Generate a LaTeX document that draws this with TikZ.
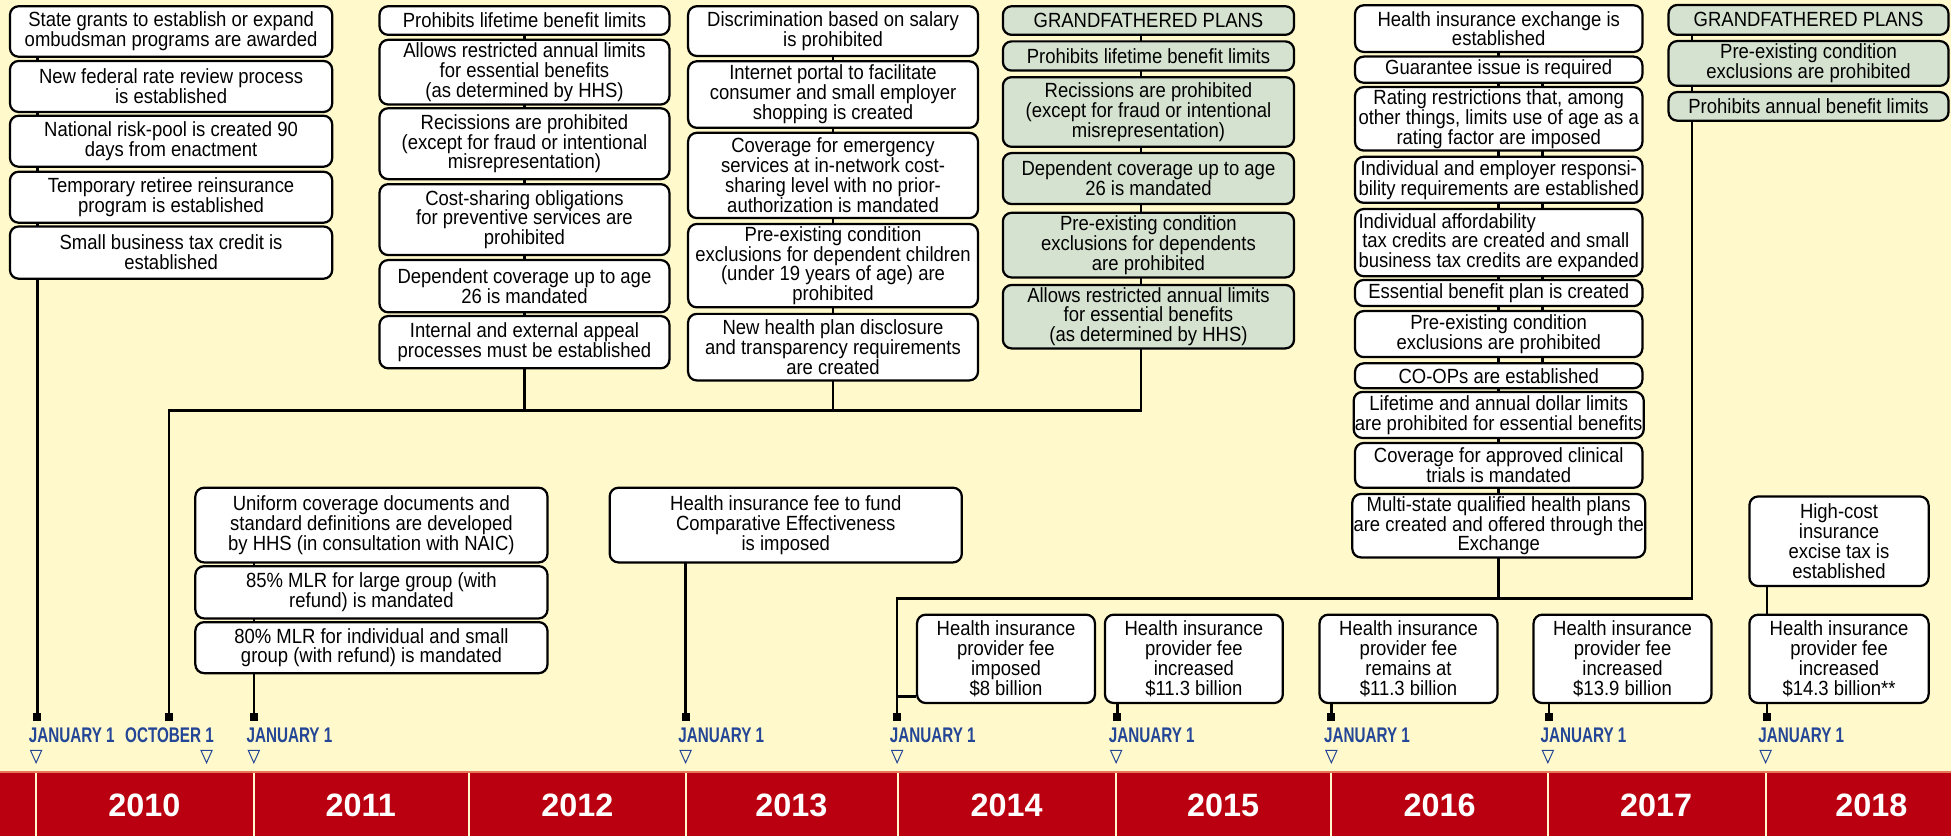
\documentclass[tikz,border=0pt]{standalone}
\usepackage{fontspec}
\setmainfont{Liberation Sans}
\newfontfamily\boxfont{Liberation Sans}[FakeStretch=0.9]
\newfontfamily\datefont{Liberation Sans}[FakeStretch=0.72]
\definecolor{creamBG}{RGB}{255,249,204}
\definecolor{bandRed}{RGB}{186,0,16}
\definecolor{bandEdge}{RGB}{232,120,90}
\definecolor{dateBlue}{RGB}{35,70,150}
\definecolor{gfGreen}{RGB}{213,226,208}
\pgfdeclarelayer{paper}
\pgfdeclarelayer{wires}
\pgfsetlayers{paper,wires,main}

\begin{document}
\begin{tikzpicture}[
    x=1pt, y=-1pt,
    evt/.style={draw, rounded corners=7pt, line width=1.8pt, fill=white, align=center, inner sep=1pt, font=\boxfont\fontsize{16.5}{16}\selectfont},
    gfp/.style={evt, fill=gfGreen},
    colA/.style={evt, minimum width=259pt},
    colB/.style={evt, minimum width=233pt},
    colC/.style={evt, minimum width=233pt},
    colD/.style={gfp, minimum width=234pt},
    colE/.style={evt, minimum width=231pt},
    colF/.style={gfp, minimum width=225pt},
    wide/.style={evt, minimum width=283pt},
    fee/.style={evt, minimum width=143pt, minimum height=71pt},
    wire/.style={line width=2pt},
    year/.style={text=white, font=\fontsize{26}{26}\selectfont\bfseries},
    date/.style={text=dateBlue, font=\datefont\fontsize{17}{17}\selectfont\bfseries, inner sep=0pt},
    stub/.style={fill=black, minimum size=6.5pt, inner sep=0pt}
  ]
    \useasboundingbox (0,0) rectangle (1568,672);

    % Paper and year band
    \begin{pgfonlayer}{paper}
      \fill[creamBG] (0,0) rectangle (1568,672);
      \fill[bandRed] (0,620) rectangle (1568,672);
      \draw[bandEdge, line width=1pt] (0,620.5) -- (1568,620.5);
      \foreach \x in {29,204,377,551,722,897,1070,1244,1419}
        \draw[creamBG, line width=1.6pt] (\x,621) -- (\x,672);
    \end{pgfonlayer}
    \foreach \yr/\x in {2010/116,2011/290,2012/464,2013/636,2014/809,2015/983,2016/1157,2017/1331,2018/1504}
      \node[year] (y\yr) at (\x,647) {\yr};

    % Dates
    \foreach \x/\nm in {29/d10,204/d11,551/d13,721/d14,897/d15,1070/d16,1244/d17,1419/d18}
      \node[date, anchor=west] (\nm) at (\x-6,591) {JANUARY 1};
    \node[date, anchor=east] (dO10) at (172,591) {OCTOBER 1};
    \foreach \x in {29,166,204,551,721,897,1070,1244,1419}
      \draw[dateBlue, line width=0.8pt] (\x-4.5,603) -- (\x+4.5,603) -- (\x,613) -- cycle;

    \coordinate (mJ10) at (30,576);
    \coordinate (mO10) at (136,576);
    \coordinate (mJ11) at (204,576);
    \coordinate (mJ13) at (551,576);
    \coordinate (mJ14) at (721,576);
    \coordinate (mJ15) at (898,576);
    \coordinate (mJ16) at (1070,576);
    \coordinate (mJ17) at (1245,576);
    \coordinate (mJ18) at (1420,576);
    \coordinate (bkO) at (136,330);
    \coordinate (bkD) at (917,330);
    \coordinate (bk14) at (721,481);
    \coordinate (bkF) at (1360,481);

    % January 1, 2010
    \node[colA, minimum height=40.6pt] (a1) at (137.5,25.3) {State grants to establish or expand\\ombudsman programs are awarded};
    \node[colA, minimum height=41pt] (a2) at (137.5,69.5) {New federal rate review process\\is established};
    \node[colA, minimum height=41pt] (a3) at (137.5,113.5) {National risk-pool is created 90\\days from enactment};
    \node[colA, minimum height=41pt] (a4) at (137.5,158.5) {Temporary retiree reinsurance\\program is established};
    \node[colA, minimum height=42pt] (a5) at (137.5,203) {Small business tax credit is\\established};

    % October 1, 2010
    \node[colB, minimum height=23pt] (b1) at (421.5,16.5) {Prohibits lifetime benefit limits};
    \node[colB, minimum height=52pt] (b2) at (421.5,58) {Allows restricted annual limits\\for essential benefits\\(as determined by HHS)};
    \node[colB, minimum height=57pt] (b3) at (421.5,115.5) {Recissions are prohibited\\(except for fraud or intentional\\misrepresentation)};
    \node[colB, minimum height=57pt] (b4) at (421.5,176.5) {Cost-sharing obligations\\for preventive services are\\prohibited};
    \node[colB, minimum height=42pt] (b5) at (421.5,230) {Dependent coverage up to age\\26 is mandated};
    \node[colB, minimum height=42pt] (b6) at (421.5,275) {Internal and external appeal\\processes must be established};

    \node[colC, minimum height=40pt] (c1) at (669.5,25) {Discrimination based on salary\\is prohibited};
    \node[colC, minimum height=53.5pt] (c2) at (669.5,76) {Internet portal to facilitate\\consumer and small employer\\shopping is created};
    \node[colC, minimum height=68.5pt] (c3) at (669.5,141) {Coverage for emergency\\services at in-network cost-\\sharing level with no prior-\\authorization is mandated};
    \node[colC, minimum height=67pt] (c4) at (669.5,213.5) {Pre-existing condition\\exclusions for dependent children\\(under 19 years of age) are\\prohibited};
    \node[colC, minimum height=53.5pt] (c5) at (669.5,279) {New health plan disclosure\\and transparency requirements\\are created};

    \node[colD, minimum height=23pt] (d1) at (923,16.5) {GRANDFATHERED PLANS};
    \node[colD, minimum height=23.5pt] (d2) at (923,45) {Prohibits lifetime benefit limits};
    \node[colD, minimum height=56pt] (d3) at (923,90) {Recissions are prohibited\\(except for fraud or intentional\\misrepresentation)};
    \node[colD, minimum height=41pt] (d4) at (923,143.5) {Dependent coverage up to age\\26 is mandated};
    \node[colD, minimum height=52pt] (d5) at (923,197) {Pre-existing condition\\exclusions for dependents\\are prohibited};
    \node[colD, minimum height=51pt] (d6) at (923,254.5) {Allows restricted annual limits\\for essential benefits\\(as determined by HHS)};

    % January 1, 2011 and 2013
    \node[wide, minimum height=60pt] (g1) at (298.5,422) {Uniform coverage documents and\\standard definitions are developed\\by HHS (in consultation with NAIC)};
    \node[wide, minimum height=42pt] (g2) at (298.5,476) {85\% MLR for large group (with\\refund) is mandated};
    \node[wide, minimum height=41pt] (g3) at (298.5,520.5) {80\% MLR for individual and small\\group (with refund) is mandated};
    \node[wide, minimum height=60pt] (h1) at (631.5,422) {Health insurance fee to fund\\Comparative Effectiveness\\is imposed};

    % January 1, 2014
    \node[colE, minimum height=37.5pt] (e1) at (1204.5,23) {Health insurance exchange is\\established};
    \node[colE, minimum height=21pt] (e2) at (1204.5,56) {Guarantee issue is required};
    \node[colE, minimum height=51pt] (e3) at (1204.5,95.5) {Rating restrictions that, among\\other things, limits use of age as a\\rating factor are imposed};
    \node[colE, minimum height=37pt] (e4) at (1204.5,144.5) {Individual and employer responsi-\\bility requirements are established};
    \node[colE, minimum height=54pt, align=left] (e5) at (1204.5,195) {Individual affordability\\\hspace*{3pt}tax credits are created and small\\business tax credits are expanded};
    \node[colE, minimum height=21pt] (e6) at (1204.5,235.5) {Essential benefit plan is created};
    \node[colE, minimum height=37pt] (e7) at (1204.5,268.5) {Pre-existing condition\\exclusions are prohibited};
    \node[colE, minimum height=20pt] (e8) at (1204.5,302) {CO-OPs are established};
    \node[colE, minimum height=37pt] (e9) at (1204.5,333.5) {Lifetime and annual dollar limits\\are prohibited for essential benefits};
    \node[colE, minimum height=36pt] (e10) at (1204.5,374) {Coverage for approved clinical\\trials is mandated};
    \node[colE, minimum height=51pt] (e11) at (1204.5,422.5) {Multi-state qualified health plans\\are created and offered through the\\Exchange};

    \node[colF, minimum height=24pt] (f1) at (1453.5,16) {GRANDFATHERED PLANS};
    \node[colF, minimum height=36pt] (f2) at (1453.5,51) {Pre-existing condition\\exclusions are prohibited};
    \node[colF, minimum height=23pt] (f3) at (1453.5,85.5) {Prohibits annual benefit limits};

    % Provider fees
    \node[fee] (i1) at (808.5,529.5) {Health insurance\\provider fee\\imposed\\\$8 billion};
    \node[fee] (i2) at (959.5,529.5) {Health insurance\\provider fee\\increased\\\$11.3 billion};
    \node[fee] (i3) at (1132,529.5) {Health insurance\\provider fee\\remains at\\\$11.3 billion};
    \node[fee] (i4) at (1304,529.5) {Health insurance\\provider fee\\increased\\\$13.9 billion};
    \node[fee, minimum width=144pt] (i5) at (1478,529.5) {Health insurance\\provider fee\\increased\\\$14.3 billion**};
    \node[fee, minimum width=144pt, minimum height=72pt] (j1) at (1478,435) {High-cost\\insurance\\excise tax is\\established};

    % Connectors
    \begin{pgfonlayer}{wires}
      \draw[wire] (mJ10 |- a1.center) -- (mJ10);
      \draw[wire] (mO10) -- (bkO) -- (bkD) -- (bkD |- d1.center);
      \draw[wire] (b1.center) -- (b1.center |- bkO);
      \draw[wire] (c1.center) -- (c1.center |- bkO);
      \draw[wire] (mJ11 |- g1.center) -- (mJ11);
      \draw[wire] (mJ13 |- h1.center) -- (mJ13);
      \draw[wire] (mJ14) -- (bk14) -- (bkF) -- (bkF |- f1.center);
      \draw[wire] (e1.center) -- (e1.center |- bk14);
      \draw[wire] ([xshift=35pt]e2.center) -- ([xshift=35pt]e8.center);
      \coordinate (tap) at ([yshift=6pt]i1.south west);
      \draw[wire] (tap) -- (tap -| mJ14);
      \draw[wire] (mJ15 |- i2.center) -- (mJ15);
      \draw[wire] (mJ16 |- i3.center) -- (mJ16);
      \draw[wire] (mJ17 |- i4.center) -- (mJ17);
      \draw[wire] (mJ18 |- j1.center) -- (mJ18);
    \end{pgfonlayer}
    \foreach \m in {mJ10,mO10,mJ11,mJ13,mJ14,mJ15,mJ16,mJ17,mJ18}
      \node[stub] (s\m) at (\m) {};
  \end{tikzpicture}
\end{document}
